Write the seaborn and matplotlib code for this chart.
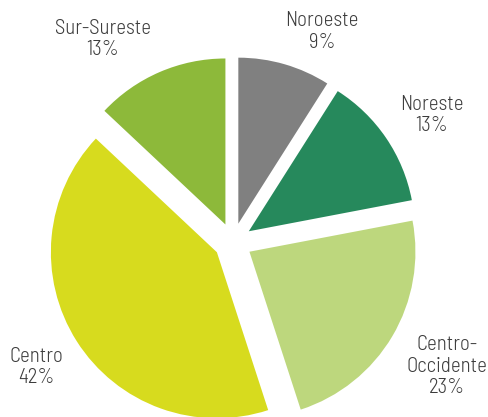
import seaborn as sns
import matplotlib
matplotlib.use('Agg')
import matplotlib.pyplot as plt

regions = ['Noroeste', 'Noreste', 'Centro-\nOccidente', 'Centro', 'Sur-Sureste']
shares = [9, 13, 23, 42, 13]
colors = ['#808080', '#26895c', '#bdd77d', '#d7db1e', '#8db93a']

# label anchor points (data units, pie radius = 1)
label_pos = [(0.536, 1.268), (1.199, 0.765), (1.289, -0.747), (-1.187, -0.753), (-0.783, 1.223)]

sns.set_theme(style='white')
plt.rcParams['font.family'] = ['Barlow Semi Condensed', 'DejaVu Sans']

fig = plt.figure(figsize=(4.88, 4.17), dpi=100)
ax = fig.add_axes([0, 0, 1, 1])

ax.pie(shares, colors=colors, startangle=90, counterclock=False,
       explode=[0.115] * len(shares), radius=1,
       wedgeprops={'linewidth': 0})

for name, val, (x, y) in zip(regions, shares, label_pos):
    ax.text(x, y, f'{name}\n{val}%', ha='center', va='center',
            fontsize=15, fontweight=300, color='#3c3c3c', linespacing=1.15)

ax.set_aspect('auto')
ax.set_xlim(-233 / 166, 255 / 166)
ax.set_ylim(-175 / 166, 242 / 166)
ax.axis('off')

fig.savefig('out.png', dpi=100)
